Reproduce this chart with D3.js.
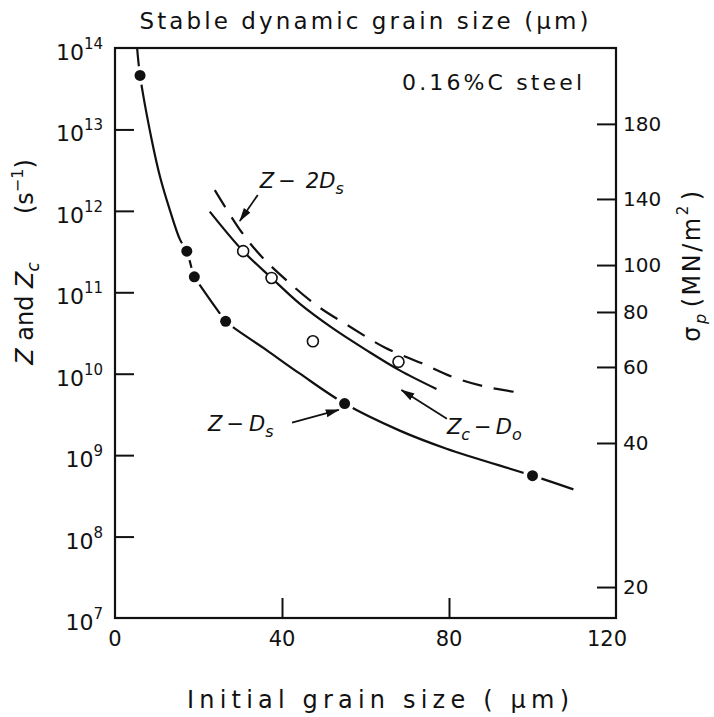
<!DOCTYPE html>
<html>
<head>
<meta charset="utf-8">
<script src="https://cdn.jsdelivr.net/npm/d3@7"></script>
<style>
  html, body { margin: 0; padding: 0; background: #fff; }
  svg { display: block; }
  text { font-family: "DejaVu Sans", sans-serif; fill: #111; }
</style>
</head>
<body>
<svg id="chart" width="714" height="717"></svg>
<script>
// Measured points: Z - Ds (filled) and Zc - Do (open)
const zDsGrain = [6, 17.2, 19, 26.5, 55, 100];
const zDsRate  = [4.6e13, 3.2e11, 1.55e11, 4.4e10, 4.3e9, 5.6e8];
const zcDoGrain = [30.7, 37.5, 47.4, 67.9];
const zcDoRate  = [3.2e11, 1.5e11, 2.5e10, 1.4e10];

// Hand-fitted curves
const zDsCurveGrain = [5.3, 6, 8.8, 10.8, 13.2, 15.6, 17.2, 19, 20.7, 25.1, 26.5, 36.3, 44.3, 55, 68.2, 79.4, 100, 109.8];
const zDsCurveRate  = [1.0e14, 4.6e13, 7.4e12, 2.6e12, 1.0e12, 4.4e11, 3.2e11, 1.55e11, 1.15e11, 5.5e10, 4.4e10, 1.95e10, 1.0e10, 4.3e9, 2.0e9, 1.2e9, 5.6e8, 3.8e8];
const zcDoCurveGrain = [22.7, 30.7, 37.5, 44.3, 52.2, 60.2, 68.2, 77];
const zcDoCurveRate  = [9.8e11, 3.2e11, 1.5e11, 7.2e10, 3.6e10, 1.95e10, 1.1e10, 6.5e9];
const z2DsCurveGrain = [23.9, 30.3, 35.1, 41.1, 48.3, 56.2, 64.6, 73.4, 80.9, 88.9, 96.5];
const z2DsCurveRate  = [1.8e12, 5.5e11, 2.75e11, 1.4e11, 6.9e10, 3.8e10, 2.1e10, 1.35e10, 9.1e9, 6.9e9, 5.9e9];

// Axis ticks
const grainTicks = [0, 40, 80, 120];
const rateExponents = [7, 8, 9, 10, 11, 12, 13, 14];
const stressTicks = [20, 40, 60, 80, 100, 140, 180];
// Z value at which each peak-stress tick sits on the left scale
const stressOnRate = [2.4e7, 1.41e9, 1.21e10, 5.73e10, 2.16e11, 1.40e12, 1.17e13];

const svg = d3.select("#chart");
const x = d3.scaleLinear().domain([0, 120]).range([115, 616]);
const y = d3.scaleLog().domain([1e7, 1e14]).range([618, 48]);
const yStress = d3.scaleLinear().domain(stressTicks).range(stressOnRate.map(v => y(v)));

const ink = "#111";

// arrowhead
svg.append("defs").append("marker")
  .attr("id", "head").attr("viewBox", "0 -5 14 10")
  .attr("refX", 13).attr("refY", 0)
  .attr("markerWidth", 14).attr("markerHeight", 10)
  .attr("markerUnits", "userSpaceOnUse").attr("orient", "auto")
  .append("path").attr("d", "M0,-4L14,0L0,4Z").attr("fill", ink);

// frame
svg.append("rect")
  .attr("x", x(0)).attr("y", y(1e14))
  .attr("width", x(120) - x(0)).attr("height", y(1e7) - y(1e14))
  .attr("fill", "none").attr("stroke", ink).attr("stroke-width", 2.2);

// inward ticks
const left = svg.append("g").attr("transform", `translate(${x(0)},0)`)
  .call(d3.axisLeft(y).tickValues(rateExponents.slice(1, -1).map(e => 10 ** e)).tickSize(-19).tickFormat(""));
const bottom = svg.append("g").attr("transform", `translate(0,${y(1e7)})`)
  .call(d3.axisBottom(x).tickValues(grainTicks.slice(1, -1)).tickSize(-20).tickFormat(""));
const right = svg.append("g").attr("transform", `translate(${x(120)},0)`)
  .call(d3.axisRight(yStress).tickValues(stressTicks).tickSize(-19).tickPadding(7));
[left, bottom, right].forEach(g => {
  g.select(".domain").remove();
  g.selectAll(".tick line").attr("stroke", ink).attr("stroke-width", 2);
});
right.selectAll(".tick text").attr("font-size", 20).attr("font-family", "DejaVu Sans").attr("fill", ink);

// left tick labels 10^n
rateExponents.forEach(e => {
  const t = svg.append("text").attr("x", 103).attr("y", y(10 ** e) + 12).attr("text-anchor", "end");
  t.append("tspan").attr("font-size", 22).text("10");
  t.append("tspan").attr("font-size", 15).attr("dy", -11).text(e);
});

// bottom tick labels
svg.selectAll(".xlab").data(grainTicks).join("text")
  .attr("x", d => x(d) - (d === 120 ? 9 : 0)).attr("y", 646)
  .attr("text-anchor", "middle").attr("font-size", 21).text(d => d);

// titles
svg.append("text").attr("x", 364).attr("y", 29).attr("text-anchor", "middle")
  .attr("font-size", 23).attr("textLength", 449).attr("lengthAdjust", "spacing")
  .text("Stable dynamic grain size (\u03bcm)");
svg.append("text").attr("x", 378).attr("y", 708).attr("text-anchor", "middle")
  .attr("font-size", 24).attr("textLength", 382).attr("lengthAdjust", "spacing")
  .text("Initial grain size ( \u03bcm)");

const yTitle = svg.append("text").attr("transform", "translate(33,262) rotate(-90)")
  .attr("text-anchor", "middle").attr("font-size", 24);
yTitle.append("tspan").attr("font-style", "italic").text("Z");
yTitle.append("tspan").text(" and ");
yTitle.append("tspan").attr("font-style", "italic").text("Z");
yTitle.append("tspan").attr("font-style", "italic").attr("font-size", 17).attr("dy", 6).text("c");
yTitle.append("tspan").attr("dx", 48).attr("dy", -6).text("(s");
yTitle.append("tspan").attr("font-size", 16).attr("dy", -10).text("\u22121");
yTitle.append("tspan").attr("dy", 10).text(")");

const sTitle = svg.append("text").attr("transform", "translate(700,265) rotate(-90)")
  .attr("text-anchor", "middle").attr("font-size", 24).attr("letter-spacing", 2.5);
sTitle.append("tspan").text("\u03c3");
sTitle.append("tspan").attr("font-style", "italic").attr("font-size", 16).attr("dy", 6).text("p");
sTitle.append("tspan").attr("dx", 4).attr("dy", -6).text("(MN/m");
sTitle.append("tspan").attr("font-size", 15).attr("dy", -12).text("2");
sTitle.append("tspan").attr("dx", 3).attr("dy", 12).text(")");

svg.append("text").attr("x", 582).attr("y", 90).attr("text-anchor", "end")
  .attr("font-size", 22).attr("textLength", 180).attr("lengthAdjust", "spacing")
  .text("0.16%C steel");

// curves
const line = d3.line().x(d => x(d[0])).y(d => y(d[1])).curve(d3.curveCatmullRom.alpha(0.5));
const zip = (a, b) => a.map((v, i) => [v, b[i]]);

svg.append("path").datum(zip(zDsCurveGrain, zDsCurveRate))
  .attr("d", line).attr("fill", "none").attr("stroke", ink).attr("stroke-width", 2.2);
svg.append("path").datum(zip(zcDoCurveGrain, zcDoCurveRate))
  .attr("d", line).attr("fill", "none").attr("stroke", ink).attr("stroke-width", 2.2);
svg.append("path").datum(zip(z2DsCurveGrain, z2DsCurveRate))
  .attr("d", line).attr("fill", "none").attr("stroke", ink).attr("stroke-width", 2.2)
  .attr("stroke-dasharray", "20,12");

// filled points with a white gap around them
const filled = zip(zDsGrain, zDsRate);
svg.selectAll(".halo").data(filled).join("circle")
  .attr("cx", d => x(d[0])).attr("cy", d => y(d[1])).attr("r", 9.5).attr("fill", "#fff");
svg.selectAll(".dot").data(filled).join("circle")
  .attr("cx", d => x(d[0])).attr("cy", d => y(d[1])).attr("r", 5.5).attr("fill", ink);

svg.selectAll(".ring").data(zip(zcDoGrain, zcDoRate)).join("circle")
  .attr("cx", d => x(d[0])).attr("cy", d => y(d[1])).attr("r", 5.5)
  .attr("fill", "#fff").attr("stroke", ink).attr("stroke-width", 1.6);

// annotations
function arrow(x1, y1, x2, y2) {
  svg.append("line").attr("x1", x1).attr("y1", y1).attr("x2", x2).attr("y2", y2)
    .attr("stroke", ink).attr("stroke-width", 1.8).attr("marker-end", "url(#head)");
}
arrow(x(34.2), y(1.57e12), x(29.9), y(7.5e11));
arrow(x(42.4), y(2.5e9), x(53.6), y(3.6e9));
arrow(x(79.5), y(2.8e9), x(68.6), y(6.3e9));

function curveLabel(px, py, main, sub, gapText) {
  const t = svg.append("text").attr("x", px).attr("y", py).attr("font-size", 21).attr("font-style", "italic");
  t.append("tspan").text("Z");
  if (main.sub0) t.append("tspan").attr("font-size", 16).attr("dy", 6).text(main.sub0);
  t.append("tspan").attr("dx", 4).attr("dy", main.sub0 ? -6 : 0).attr("font-style", "normal").text("\u2212");
  t.append("tspan").attr("dx", gapText).text(main.lead + "D");
  t.append("tspan").attr("font-size", 16).attr("dy", 6).text(sub);
}
curveLabel(x(34.7), y(1.9e12), { lead: "2" }, "s", 10);
curveLabel(x(22.3), y(2.0e9), { lead: "" }, "s", 5);
curveLabel(x(79.5), y(1.8e9), { lead: "", sub0: "c" }, "o", 4);
</script>
</body>
</html>
